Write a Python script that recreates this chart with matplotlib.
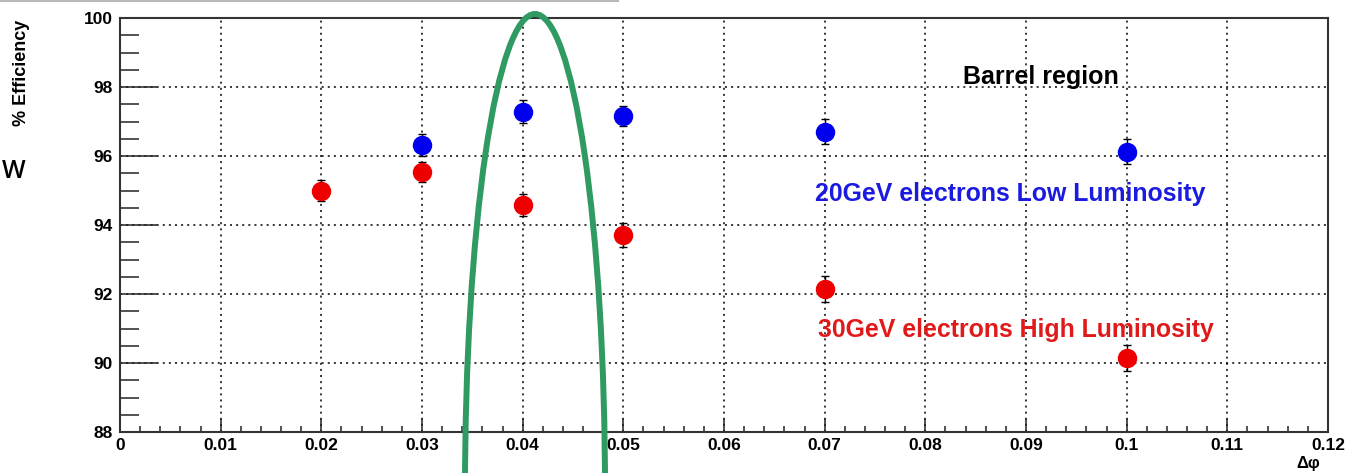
import matplotlib
matplotlib.use("Agg")
import matplotlib.pyplot as plt
from matplotlib.patches import Ellipse
from matplotlib.lines import Line2D
from matplotlib.ticker import FixedLocator, MultipleLocator

plt.rcParams['font.family'] = ['Liberation Sans', 'DejaVu Sans']

# ---- data ----
low_lumi_x = [0.03, 0.04, 0.05, 0.07, 0.10]
low_lumi_eff = [96.32, 97.28, 97.16, 96.70, 96.12]
low_lumi_err = [0.33, 0.33, 0.30, 0.36, 0.36]

high_lumi_x = [0.02, 0.03, 0.04, 0.05, 0.07, 0.10]
high_lumi_eff = [94.99, 95.54, 94.58, 93.71, 92.14, 90.14]
high_lumi_err = [0.30, 0.30, 0.33, 0.35, 0.37, 0.38]

x_ticks = [0.0, 0.01, 0.02, 0.03, 0.04, 0.05, 0.06, 0.07, 0.08, 0.09, 0.10, 0.11, 0.12]
x_tick_labels = ["0", "0.01", "0.02", "0.03", "0.04", "0.05", "0.06", "0.07",
                 "0.08", "0.09", "0.1", "0.11", "0.12"]
y_ticks = [88, 90, 92, 94, 96, 98, 100]
y_tick_labels = ["88", "90", "92", "94", "96", "98", "100"]

W, H = 1350, 473
fig = plt.figure(figsize=(W / 100, H / 100), dpi=100)
ax = fig.add_axes([120 / W, 1 - 432 / H, (1328 - 120) / W, (432 - 18) / H])

ax.set_xlim(0, 0.12)
ax.set_ylim(88, 100)

ax.errorbar(low_lumi_x, low_lumi_eff, yerr=low_lumi_err, fmt='o', color='#0000ee',
            markersize=13, ecolor='black', elinewidth=1.0, capsize=3, capthick=1.0, zorder=3)
ax.errorbar(high_lumi_x, high_lumi_eff, yerr=high_lumi_err, fmt='o', color='#ee0000',
            markersize=13, ecolor='black', elinewidth=1.0, capsize=3, capthick=1.0, zorder=3)

ax.xaxis.set_major_locator(FixedLocator(x_ticks))
ax.set_xticklabels(x_tick_labels)
ax.xaxis.set_minor_locator(MultipleLocator(0.002))
ax.yaxis.set_major_locator(FixedLocator(y_ticks))
ax.set_yticklabels(y_tick_labels)
ax.yaxis.set_minor_locator(MultipleLocator(0.5))

for lab in ax.get_xticklabels() + ax.get_yticklabels():
    lab.set_fontweight('bold')
    lab.set_fontsize(12.5)

ax.tick_params(axis='x', which='major', direction='in', length=9.4, width=1.1, pad=4,
               top=False, color='#222222')
ax.tick_params(axis='x', which='minor', direction='in', length=4.3, width=1.1, top=False,
               color='#222222')
ax.tick_params(axis='y', which='major', direction='in', length=26.6, width=1.1, pad=5,
               right=False, color='#222222')
ax.tick_params(axis='y', which='minor', direction='in', length=13.7, width=1.1, right=False,
               color='#222222')

ax.grid(True, which='major', color='black', linestyle=(0, (1.3, 2.7)), linewidth=1.1)
ax.set_axisbelow(True)
for s in ax.spines.values():
    s.set_linewidth(1.5)
    s.set_color('#333333')

ax.text(0.0915, 98.3, "Barrel region", fontsize=18, fontweight='bold', color='black',
        ha='center', va='center')
ax.text(0.0690, 94.9, "20GeV electrons Low Luminosity", fontsize=17.9, fontweight='bold',
        color='#1a1ae0', ha='left', va='center')
ax.text(0.0693, 90.95, "30GeV electrons High Luminosity", fontsize=17.9, fontweight='bold',
        color='#e01a1a', ha='left', va='center')

fig.text(22 / W, 1 - 20 / H, "% Efficiency", rotation=90, fontsize=13, fontweight='bold',
         ha='center', va='top')
fig.text(1320 / W, 1 - 471 / H, "Δφ", fontsize=12, fontweight='bold', ha='right', va='bottom')
fig.text(2 / W, 1 - 178 / H, "W", fontsize=18, fontweight='semibold', family=['Open Sans', 'DejaVu Sans'],
         ha='left', va='baseline')

# top gray rule
fig.add_artist(Line2D([0, 618 / W], [1 - 1.5 / H, 1 - 1.5 / H], color='#b8b8b8', linewidth=1.5))

# green highlight loop
ell = Ellipse((535 / W, 1 - 490 / H), 140 / W, 952 / H, fill=False, edgecolor='#2f9a62',
              linewidth=4.3, transform=fig.transFigure, clip_on=False, zorder=10)
fig.add_artist(ell)

fig.savefig("out.png", dpi=100)
